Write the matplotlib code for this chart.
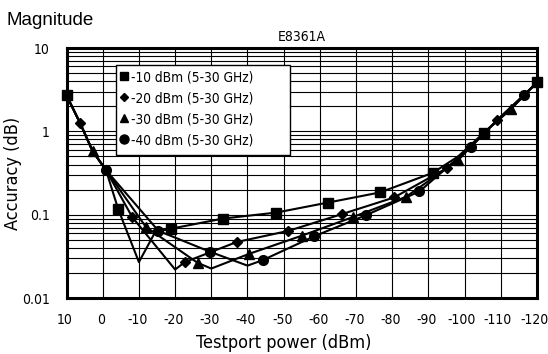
import matplotlib
matplotlib.use('Agg')
import matplotlib.pyplot as plt
from matplotlib.patches import Rectangle
from matplotlib.transforms import ScaledTranslation

plt.rcParams['font.family'] = ['DejaVu Sans']
plt.rcParams['font.stretch'] = 'condensed'

# testport power (dBm) / accuracy (dB)
sq_x = [10, 6.3, 2.8, -0.9, -4.3, -10, -14.5, -18.9, -33.3, -47.9, -62.3, -76.6, -91.2, -98.2, -105.3, -112.7, -120]
sq_y = [2.7, 1.27, 0.58, 0.343, 0.116, 0.027, 0.062, 0.068, 0.090, 0.106, 0.140, 0.185, 0.318, 0.5, 0.96, 1.84, 3.87]
sq_marks = [0, 4, 7, 8, 9, 10, 11, 12, 14, 16]

di_x = [10, 6.3, 2.8, -0.9, -8.2, -20, -22.7, -37, -51.3, -66.2, -80.5, -95, -101.7, -109, -116.4, -120]
di_y = [2.7, 1.27, 0.58, 0.343, 0.093, 0.022, 0.027, 0.047, 0.064, 0.102, 0.161, 0.36, 0.65, 1.37, 2.73, 3.87]
di_marks = [1, 4, 6, 7, 8, 9, 10, 11, 13]

tr_x = [10, 6.3, 2.8, -0.9, -11.9, -26.2, -30, -40.5, -55, -69.2, -83.8, -98.2, -105.3, -112.7, -120]
tr_y = [2.7, 1.27, 0.58, 0.343, 0.0716, 0.0265, 0.0226, 0.034, 0.056, 0.094, 0.164, 0.45, 0.96, 1.84, 3.87]
tr_marks = [2, 4, 5, 7, 8, 9, 10, 11, 13]

ci_x = [10, 6.3, 2.8, -0.9, -15.4, -29.6, -40, -44.2, -58.4, -72.8, -87.5, -101.7, -109, -116.4, -120]
ci_y = [2.7, 1.27, 0.58, 0.343, 0.064, 0.036, 0.0245, 0.0285, 0.055, 0.099, 0.19, 0.65, 1.37, 2.73, 3.87]
ci_marks = [3, 4, 5, 7, 8, 9, 10, 11, 13]

labels = ['-10 dBm (5-30 GHz)', '-20 dBm (5-30 GHz)', '-30 dBm (5-30 GHz)', '-40 dBm (5-30 GHz)']
xticks = [10, 0, -10, -20, -30, -40, -50, -60, -70, -80, -90, -100, -110, -120]
yticks = [0.01, 0.1, 1, 10]
ytick_labels = ['0.01', '0.1', '1', '10']

fig = plt.figure(figsize=(5.48, 3.54), dpi=100)
ax = fig.add_axes([0.1214, 0.158, 0.8586, 0.7064])

series = [
    (sq_x, sq_y, sq_marks, 's', 7, 6),
    (di_x, di_y, di_marks, 'D', 5, 4.5),
    (tr_x, tr_y, tr_marks, '^', 7, 6),
    (ci_x, ci_y, ci_marks, 'o', 7, 6.5),
]
handles = []
for (xs, ys, marks, m, ms, lms), lab in zip(series, labels):
    ax.plot(xs, ys, color='black', lw=1.5, zorder=3, clip_on=False)
    ax.plot([xs[i] for i in marks], [ys[i] for i in marks], ls='none', marker=m,
            ms=ms, color='black', zorder=4, clip_on=False)
    h, = ax.plot([], [], ls='none', marker=m, ms=lms, color='black', label=lab)
    handles.append(h)

ax.set_yscale('log')
ax.set_ylim(0.01, 10)
ax.set_xlim(10, -120)
ax.set_xticks(xticks)
ax.set_xticklabels([str(t) for t in xticks])
ax.set_yticks(yticks)
ax.set_yticklabels(ytick_labels)
ax.yaxis.set_minor_formatter(matplotlib.ticker.NullFormatter())
ax.tick_params(which='both', length=0, labelsize=10)
ax.tick_params(axis='x', pad=10.5)
ax.tick_params(axis='y', pad=12)
# the original's tick labels sit a little left of their grid lines
for i, lbl in enumerate(ax.get_xticklabels()):
    dx = -3 if i >= 11 else -1.5
    lbl.set_transform(lbl.get_transform() + ScaledTranslation(dx / 100, 0, fig.dpi_scale_trans))

ax.grid(True, which='major', color='black', lw=0.8)
ax.grid(True, which='minor', axis='y', color='black', lw=0.8)
ax.set_axisbelow(True)
for sp in ax.spines.values():
    sp.set_linewidth(2.2)

ax.set_xlabel('Testport power (dBm)', fontsize=13, va='top')
ax.xaxis.set_label_coords(0.462, -0.145)
ax.set_ylabel('Accuracy (dB)', fontsize=13)
ax.yaxis.set_label_coords(-0.0946, 0.5)
ax.set_title('E8361A', fontsize=10, pad=5)
fig.text(0.012, 0.943, 'Magnitude', fontsize=13.5, family=['Liberation Sans', 'DejaVu Sans'],
         stretch='normal', va='center')

# legend box is wider than its entries in the original
ax.add_patch(Rectangle((0.105, 0.572), 0.37, 0.36, transform=ax.transAxes,
                       facecolor='white', edgecolor='black', lw=1.0, zorder=5))
leg = ax.legend(handles=handles, loc='upper left', bbox_to_anchor=(0.1105, 0.912),
                fontsize=9.8, frameon=False, borderpad=0,
                handlelength=0.8, handletextpad=0.15, labelspacing=0.52, borderaxespad=0)
leg.set_zorder(6)

plt.savefig('out.png', dpi=100)
